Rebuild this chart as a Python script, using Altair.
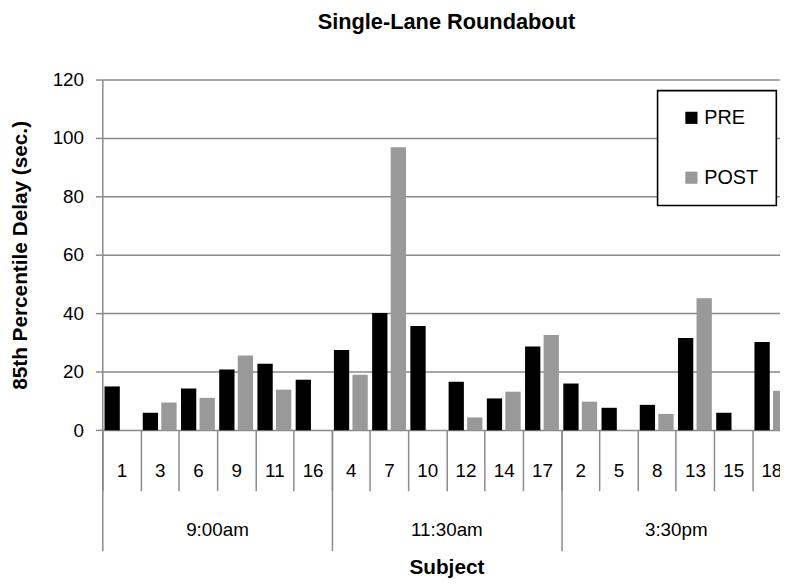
import altair as alt
import pandas as pd

subjects = ["1", "3", "6", "9", "11", "16",
            "4", "7", "10", "12", "14", "17",
            "2", "5", "8", "13", "15", "18"]
groups = ["9:00am"] * 6 + ["11:30am"] * 6 + ["3:30pm"] * 6
group_order = ["9:00am", "11:30am", "3:30pm"]
pre = [15.0, 6.0, 14.3, 20.8, 22.8, 17.3,
       27.5, 40.1, 35.7, 16.6, 10.9, 28.7,
       16.0, 7.7, 8.7, 31.6, 6.0, 30.2]
post = [None, 9.5, 11.1, 25.6, 13.9, None,
        19.0, 96.8, None, 4.4, 13.2, 32.6,
        9.8, None, 5.6, 45.2, None, 13.5]
phases = ["PRE", "POST"]
colors = ["#000000", "#999999"]

rows = []
for s, g, a, b in zip(subjects, groups, pre, post):
    rows.append({"subject": s, "group": g, "phase": "PRE", "delay": a})
    rows.append({"subject": s, "group": g, "phase": "POST", "delay": b})
df = pd.DataFrame(rows)
bars_df = df.dropna(subset=["delay"])

FONT = "Liberation Sans"
GRAY = "#8a8a8a"
PAD_L = 95.3
PAD_T = 69.3
PLOT_W = 695.3   # 18 bands; the last one runs past the window edge
PLOT_H = 354.4
PAD_R = 780 - PAD_L - PLOT_W
PAD_B = 150

bars = alt.Chart(bars_df).mark_bar().encode(
    x=alt.X("subject:N", sort=subjects,
            scale=alt.Scale(domain=subjects, paddingInner=0, paddingOuter=0),
            axis=alt.Axis(orient="bottom", title=None, grid=False, domain=False,
                          tickBand="extent", tickSize=61, tickColor=GRAY,
                          tickWidth=1.5, labelPadding=-20, labelBaseline="middle",
                          labelAngle=0, labelFontSize=19, labelColor="black",
                          labelFont=FONT)),
    xOffset=alt.XOffset("phase:N", sort=phases,
                        scale=alt.Scale(domain=phases, paddingInner=0.176,
                                        paddingOuter=0.118)),
    y=alt.Y("delay:Q",
            scale=alt.Scale(domain=[0, 120]),
            axis=alt.Axis(title="85th Percentile Delay (sec.)", values=[0, 20, 40, 60, 80, 100, 120],
                          grid=True, gridColor=GRAY, gridWidth=1.5,
                          domainColor=GRAY, domainWidth=1.5,
                          tickColor=GRAY, tickWidth=1.5, tickSize=7,
                          labelFontSize=19, labelPadding=12, labelColor="black",
                          labelFont=FONT,
                          titleFont=FONT, titleFontSize=21, titleFontWeight="bold",
                          titleAngle=270, titleBaseline="middle", titleAlign="center",
                          titleX=-83, titleY=PLOT_H / 2, titleColor="black")),
    color=alt.Color("phase:N",
                    scale=alt.Scale(domain=phases, range=colors),
                    legend=alt.Legend(title=None, orient="none", legendX=561, legendY=11.2,
                                      fillColor="white", strokeColor="black",
                                      padding=17.5, rowPadding=40.5,
                                      symbolType="square", symbolSize=151,
                                      symbolStrokeWidth=0, symbolOffset=6.7,
                                      labelFontSize=20,
                                      labelFont=FONT, labelColor="black",
                                      labelOffset=3)),
)

group_layer = alt.Chart(df).mark_bar(opacity=0).encode(
    x=alt.X("group:N", sort=group_order,
            scale=alt.Scale(type="band", domain=group_order,
                            paddingInner=0, paddingOuter=0),
            axis=alt.Axis(orient="bottom", grid=False, domain=False,
                          tickBand="extent", tickSize=121.6, tickColor=GRAY,
                          tickWidth=1.5, labelPadding=-20.8, labelBaseline="middle",
                          labelAngle=0, labelFontSize=19, labelColor="black",
                          labelFont=FONT,
                          title="Subject", titleFont=FONT, titleFontSize=21,
                          titleFontWeight="bold", titleColor="black",
                          titleBaseline="middle", titleY=139)),
    y=alt.value(0),
)

chart = alt.layer(bars, group_layer).resolve_scale(x="independent").resolve_axis(
    x="independent"
).properties(
    width=PLOT_W,
    height=PLOT_H,
    title=alt.TitleParams("Single-Lane Roundabout", font=FONT, fontSize=22,
                          fontWeight="bold", color="black", offset=37, anchor="middle"),
    autosize=alt.AutoSizeParams(type="none"),
    padding={"left": PAD_L, "top": PAD_T, "right": PAD_R, "bottom": PAD_B},
).configure_view(stroke=None).configure_legend(strokeWidth=1.6)

chart.save("out.html", embed_options={"renderer": "svg", "actions": False})
